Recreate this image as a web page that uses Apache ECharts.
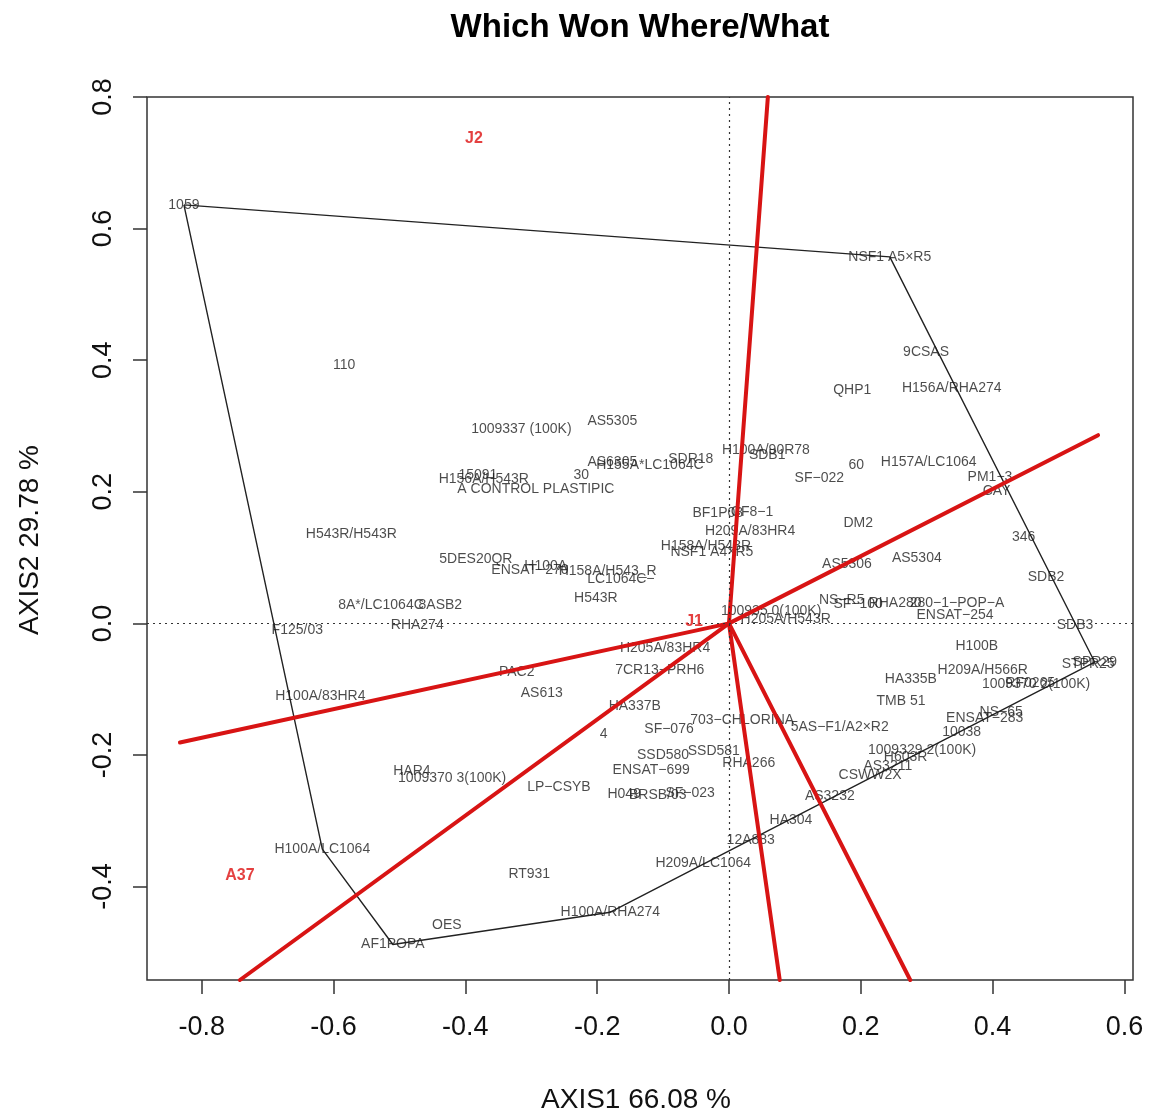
<!DOCTYPE html>
<html>
<head>
<meta charset="utf-8">
<title>Which Won Where/What</title>
<script src="https://cdn.jsdelivr.net/npm/echarts@6/dist/echarts.min.js"></script>
<style>
  html, body { margin: 0; padding: 0; background: #ffffff; }
  #chart { width: 1152px; height: 1115px; }
</style>
</head>
<body>
<div id="chart"></div>
<script>
// Genotype scores on the first two principal axes
const genotypeNames = [
  '1059', '110', '1009337 (100K)', 'AS5305', 'AS6305', 'H155A*LC1064C', 'SDR18',
  '15091', 'H156A/H543R', '30', 'A CONTROL PLASTIPIC', 'H100A/90R78', 'SDB1', '60',
  'H157A/LC1064', 'SF\u2212022', 'PM1\u22123', 'CAY', 'QHP1', 'H156A/RHA274', '9CSAS',
  'NSF1 A5\u00d7R5', 'BF1P08', 'CF8\u22121', 'H209A/83HR4', 'DM2', 'H158A/H543R',
  'NSF1 A4\u00d7R5', '346', 'AS5304', 'AS5306', 'SDB2', 'H543R/H543R', '5DES20QR',
  'ENSAT\u2212270', 'H100A', 'H158A/H543_R', 'LC1064C\u2212', 'H543R', '8A*/LC1064C',
  '8ASB2', 'RHA274', 'F125/03', 'NS\u2212R5', 'SF\u2212100', 'RHA280', '280\u22121\u2212POP\u2212A',
  'ENSAT\u2212254', '100935 0(100K)', 'H205A/H543R', 'SDB3', 'H100B', 'STPR25', 'SPR29',
  'H209A/H566R', '1009370 2(100K)', 'RF0265', 'HA335B', 'TMB 51', 'NS\u221265',
  'ENSAT\u2212283', '10038', '5AS\u2212F1/A2\u00d7R2', '703\u2212CHLORINA', '1009329 2(100K)',
  'H603R', 'AS3211', 'CSWW2X', 'AS3232', 'HA304', '12A883', 'H209A/LC1064',
  'H100A/RHA274', 'RT931', 'OES', 'AF1POPA', 'H100A/LC1064', 'HAR4', '1009370 3(100K)',
  'LP\u2212CSYB', 'H049', 'BRSB/03', 'SF\u2212023', 'ENSAT\u2212699', 'SSD580', 'SSD581',
  'RHA266', 'SF\u2212076', '4', 'HA337B', 'AS613', 'PAC2', '7CR13\u2212PRH6', 'H205A/83HR4',
  'H100A/83HR4'
];
const genotypeAxis1 = [
  -0.827, -0.584, -0.315, -0.177, -0.177, -0.120, -0.058,
  -0.381, -0.372, -0.224, -0.293, 0.056, 0.058, 0.193,
  0.303, 0.137, 0.396, 0.406, 0.187, 0.338, 0.299,
  0.244, -0.017, 0.035, 0.032, 0.196, -0.035,
  -0.026, 0.447, 0.285, 0.179, 0.481, -0.573, -0.384,
  -0.302, -0.278, -0.184, -0.164, -0.202, -0.528,
  -0.438, -0.473, -0.655, 0.171, 0.196, 0.252, 0.346,
  0.343, 0.064, 0.086, 0.525, 0.376, 0.545, 0.555,
  0.385, 0.466, 0.457, 0.276, 0.261, 0.413,
  0.388, 0.353, 0.168, 0.020, 0.293,
  0.268, 0.241, 0.214, 0.153, 0.094, 0.033, -0.039,
  -0.180, -0.303, -0.428, -0.510, -0.617, -0.481, -0.420,
  -0.258, -0.159, -0.108, -0.059, -0.118, -0.100, -0.023,
  0.030, -0.091, -0.190, -0.143, -0.284, -0.322, -0.105, -0.097,
  -0.620
];
const genotypeAxis2 = [
  0.636, 0.392, 0.295, 0.308, 0.245, 0.240, 0.249,
  0.226, 0.219, 0.225, 0.204, 0.264, 0.255, 0.240,
  0.245, 0.220, 0.223, 0.201, 0.355, 0.357, 0.412,
  0.557, 0.167, 0.169, 0.140, 0.153, 0.118,
  0.109, 0.131, 0.099, 0.090, 0.070, 0.135, 0.097,
  0.081, 0.087, 0.079, 0.067, 0.039, 0.027,
  0.027, -0.002, -0.011, 0.035, 0.029, 0.030, 0.030,
  0.012, 0.018, 0.006, -0.003, -0.035, -0.062, -0.059,
  -0.071, -0.093, -0.091, -0.084, -0.118, -0.135,
  -0.144, -0.166, -0.158, -0.147, -0.193,
  -0.204, -0.217, -0.231, -0.263, -0.299, -0.330, -0.365,
  -0.439, -0.381, -0.459, -0.488, -0.343, -0.225, -0.235,
  -0.249, -0.260, -0.261, -0.258, -0.223, -0.201, -0.194,
  -0.213, -0.160, -0.169, -0.126, -0.106, -0.074, -0.071, -0.038,
  -0.111
];

// Vertex genotypes of the convex hull, in drawing order
const hullOrder = ['1059', 'NSF1 A5\u00d7R5', 'SPR29', 'H100A/RHA274', 'AF1POPA', 'H100A/LC1064', '1059'];

// Environment markers
const envNames = ['J1', 'J2', 'A37'];
const envAxis1 = [-0.053, -0.387, -0.742];
const envAxis2 = [0.003, 0.737, -0.384];

// Sector boundary rays, drawn from the origin to these ends
const rayEndAxis1 = [0.059, 0.560, -0.833, -0.742, 0.077, 0.275];
const rayEndAxis2 = [0.800, 0.286, -0.181, -0.542, -0.542, -0.542];

// Axis ticks
const xTicks = [-0.8, -0.6, -0.4, -0.2, 0.0, 0.2, 0.4, 0.6];
const yTicks = [-0.4, -0.2, 0.0, 0.2, 0.4, 0.6, 0.8];

const X_MIN = -0.883, X_MAX = 0.613, Y_MIN = -0.542, Y_MAX = 0.8;
const FONT = '"Liberation Sans", Arial, Helvetica, sans-serif';

const genotypeData = genotypeNames.map((n, i) => ({ name: n, value: [genotypeAxis1[i], genotypeAxis2[i]] }));
const lookup = {};
genotypeData.forEach(d => { lookup[d.name] = d.value; });
const hullData = hullOrder.map(n => lookup[n]);
const envData = envNames.map((n, i) => ({ name: n, value: [envAxis1[i], envAxis2[i]] }));

const raySeries = rayEndAxis1.map((x, i) => ({
  type: 'line',
  data: [[0, 0], [x, rayEndAxis2[i]]],
  symbol: 'none',
  clip: true,
  z: 4,
  silent: true,
  lineStyle: { color: '#d81414', width: 4, cap: 'round' }
}));

const chart = echarts.init(document.getElementById('chart'), null, { renderer: 'canvas' });

chart.setOption({
  backgroundColor: '#ffffff',
  animation: false,
  grid: {
    left: 147, right: 19, top: 97, bottom: 135,
    show: true, borderColor: '#333333', borderWidth: 1.5, backgroundColor: 'transparent'
  },
  xAxis: {
    type: 'value', min: X_MIN, max: X_MAX, position: 'bottom',
    axisLine: { show: false, onZero: false },
    splitLine: { show: false },
    axisTick: { show: true, customValues: xTicks, length: 14, lineStyle: { color: '#333', width: 1.5 } },
    axisLabel: {
      customValues: xTicks, margin: 34, fontSize: 27, color: '#111', fontFamily: FONT,
      formatter: v => v.toFixed(1)
    }
  },
  yAxis: {
    type: 'value', min: Y_MIN, max: Y_MAX, position: 'left',
    axisLine: { show: false, onZero: false },
    splitLine: { show: false },
    axisTick: { show: true, customValues: yTicks, length: 14, lineStyle: { color: '#333', width: 1.5 } },
    axisLabel: {
      customValues: yTicks, margin: 30, fontSize: 27, color: '#111', fontFamily: FONT,
      rotate: 90, formatter: v => v.toFixed(1)
    }
  },
  graphic: [
    {
      type: 'text', x: 640, y: 28, z: 10,
      style: { text: 'Which Won Where/What', fontSize: 33, fontWeight: 'bold', fontFamily: FONT,
        fill: '#000', align: 'center', verticalAlign: 'middle' }
    },
    {
      type: 'text', x: 636, y: 1100, z: 10,
      style: { text: 'AXIS1 66.08 %', fontSize: 28, fontFamily: FONT,
        fill: '#111', align: 'center', verticalAlign: 'middle' }
    },
    {
      type: 'text', x: 30, y: 540, rotation: Math.PI / 2, z: 10,
      style: { text: 'AXIS2 29.78 %', fontSize: 28, fontFamily: FONT,
        fill: '#111', align: 'center', verticalAlign: 'middle' }
    }
  ],
  series: [
    {
      // dotted reference lines through the origin
      type: 'line', data: [], z: 1, silent: true,
      markLine: {
        silent: true, symbol: 'none', animation: false,
        label: { show: false },
        lineStyle: { color: '#333', width: 1.2, type: [2, 4] },
        data: [{ xAxis: 0 }, { yAxis: 0 }]
      }
    },
    {
      type: 'line', data: hullData, symbol: 'none', z: 2, silent: true,
      lineStyle: { color: '#222', width: 1.4 }
    },
    {
      type: 'scatter', data: genotypeData, symbolSize: 0, z: 3, silent: true,
      label: {
        show: true, position: 'inside', formatter: '{b}',
        fontSize: 14, color: '#1e1e1e', fontFamily: FONT
      }
    },
    ...raySeries,
    {
      type: 'scatter', data: envData, symbolSize: 0, z: 6, silent: true,
      label: {
        show: true, position: 'inside', formatter: '{b}',
        fontSize: 16, fontWeight: 'bold', color: '#dd1010', fontFamily: FONT
      }
    }
  ]
});
</script>
</body>
</html>
